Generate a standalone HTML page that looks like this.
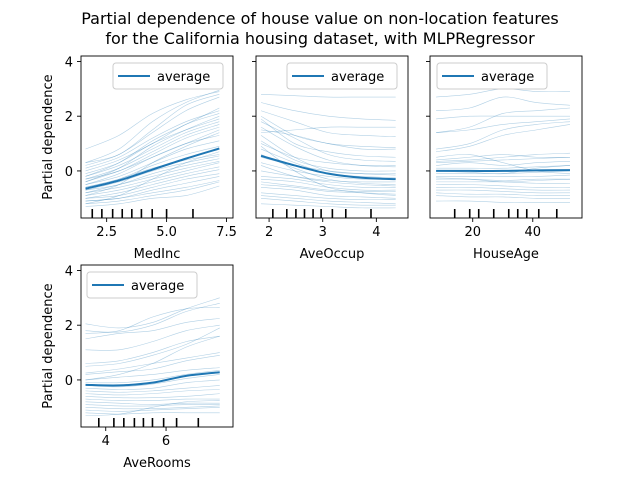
<!DOCTYPE html>
<html><head><meta charset="utf-8"><style>
body{margin:0;background:#fff}
svg{display:block;font-family:"DejaVu Sans","Liberation Sans",sans-serif}
</style></head><body>
<svg id="fig" width="640" height="480" viewBox="0 0 640 480">
<rect width="640" height="480" fill="#fff"/>
<text x="320" y="24" text-anchor="middle" font-size="16">Partial dependence of house value on non-location features</text>
<text x="320" y="44" text-anchor="middle" font-size="16">for the California housing dataset, with MLPRegressor</text>
</svg>
<script>
// ---- data ----
const featureNames = ["MedInc","AveOccup","HouseAge","AveRooms"];
const xRanges = [[1.62,7.2],[1.85,4.36],[7.8,52.4],[3.33,7.78]];
const xTickLabels = [[2.5,5.0,7.5],[2,3,4],[20,40],[4,6]];
const yTickLabels = [0,2,4];
const decilesMedInc = [1.9,2.3,2.75,3.15,3.55,3.95,4.4,5.0,6.1];
const decilesAveOccup = [2.07,2.33,2.5,2.66,2.82,2.97,3.18,3.43,3.9];
const decilesHouseAge = [14,19,22,27,32,35,38,42,48];
const decilesAveRooms = [3.77,4.27,4.6,4.95,5.25,5.55,5.92,6.35,7.07];
const avgMedInc = [-0.65,-0.35,0.05,0.45,0.82];
const avgAveOccup = [0.55,0.2,-0.1,-0.25,-0.3];
const avgHouseAge = [0.0,0.0,0.0,0.02,0.03];
const avgAveRooms = [-0.18,-0.2,-0.1,0.15,0.28];
const iceMedInc = [
[0.8,1.3,2.1,2.6,2.9],[0.3,0.8,1.8,2.5,2.95],[0.2,0.6,1.4,2.2,2.7],[0.1,0.5,1.2,1.8,2.2],[0.0,0.4,1.0,1.7,2.1],
[-0.1,0.3,1.0,1.5,1.9],[-0.2,0.2,0.8,1.4,1.8],[-0.3,0.1,0.7,1.3,1.7],[-0.3,0.0,0.6,1.2,1.6],[-0.4,0.0,0.5,1.0,1.5],
[-0.5,-0.1,0.5,1.0,1.3],[-0.5,-0.2,0.3,0.8,1.1],[-0.6,-0.3,0.2,0.6,0.9],[-0.6,-0.3,0.1,0.4,0.6],[-0.7,-0.4,0.0,0.3,0.55],
[-0.7,-0.5,-0.1,0.2,0.45],[-0.8,-0.5,-0.2,0.1,0.35],[-0.8,-0.6,-0.3,0.0,0.3],[-0.9,-0.7,-0.4,-0.1,0.15],[-1.0,-0.8,-0.5,-0.2,0.05],
[-1.0,-0.9,-0.6,-0.3,-0.1],[-1.1,-1.0,-0.7,-0.45,-0.2],[-1.1,-1.0,-0.8,-0.6,-0.35],[-1.2,-1.1,-0.9,-0.7,-0.4],[-1.3,-1.2,-1.0,-0.9,-0.55],
[-0.2,0.3,1.1,1.7,2.3],[-0.4,0.1,0.9,1.5,2.0],[-0.9,-0.5,0.3,0.9,1.4],[-1.2,-0.9,-0.3,0.3,0.7],[0.3,0.6,1.5,2.4,2.8]];
const iceAveOccup = [
[2.8,2.75,2.7,2.7,2.7],[2.5,2.2,2.0,1.9,1.85],[2.2,1.8,1.4,1.3,1.25],[2.0,1.3,1.0,0.8,0.8],[1.8,1.2,0.6,0.4,0.35],
[1.6,0.9,0.4,0.2,0.15],[1.4,1.5,1.6,1.6,1.6],[1.3,0.5,0.0,-0.1,-0.15],[1.1,0.4,0.1,0.0,0.0],[1.0,0.5,0.3,0.2,0.2],
[0.8,0.3,-0.1,-0.2,-0.25],[0.6,0.1,-0.3,-0.45,-0.5],[0.5,0.2,0.0,-0.1,-0.1],[0.3,0.0,-0.2,-0.3,-0.3],[0.2,-0.2,-0.4,-0.5,-0.55],
[0.0,-0.2,-0.35,-0.4,-0.4],[-0.2,-0.3,-0.5,-0.6,-0.6],[-0.3,-0.4,-0.6,-0.7,-0.7],[-0.5,-0.6,-0.75,-0.8,-0.85],[-0.6,-0.7,-0.9,-0.95,-1.0],
[-0.8,-0.9,-1.0,-1.05,-1.05],[-0.9,-1.0,-1.1,-1.15,-1.2],[-1.0,-1.1,-1.2,-1.25,-1.25],[-1.2,-1.25,-1.3,-1.35,-1.35],[1.9,1.0,0.7,0.55,0.5],
[1.5,1.3,1.0,0.9,0.85],[-0.4,-0.55,-0.7,-0.75,-0.75],[0.9,0.0,-0.6,-0.8,-0.9]];
const iceHouseAge = [
[2.7,2.8,3.0,2.9,2.9],[2.2,2.3,2.7,2.5,2.4],[1.4,1.6,2.1,2.2,2.3],[1.4,1.5,1.7,1.8,1.9],[0.8,1.0,1.5,1.7,1.8],
[0.7,0.9,1.3,1.5,1.7],[0.4,0.5,0.6,0.5,0.5],[0.3,0.35,0.4,0.45,0.5],[0.2,0.3,0.2,0.3,0.35],[0.1,0.1,0.1,0.15,0.2],
[0.0,-0.05,-0.1,0.1,0.2],[-0.1,-0.1,-0.1,-0.05,0.0],[-0.2,-0.2,-0.2,-0.2,-0.15],[-0.3,-0.3,-0.35,-0.3,-0.3],[-0.4,-0.4,-0.4,-0.45,-0.45],
[-0.5,-0.5,-0.55,-0.6,-0.6],[-0.6,-0.6,-0.65,-0.7,-0.7],[-0.7,-0.7,-0.75,-0.8,-0.8],[-0.8,-0.85,-0.85,-0.9,-0.9],[-0.9,-0.95,-0.95,-1.0,-1.0],
[-1.1,-1.1,-1.15,-1.15,-1.15],[1.9,2.0,2.0,2.0,2.0],[0.5,0.6,0.3,0.0,-0.1],[-0.25,-0.3,-0.4,-0.35,-0.3],[0.35,0.4,0.5,0.6,0.65]];
const iceAveRooms = [
[2.05,1.9,2.1,2.6,3.0],[1.8,1.75,2.0,2.5,2.8],[1.7,1.8,2.3,2.6,2.65],[1.5,1.7,1.8,2.1,2.25],[1.1,1.1,1.4,1.8,2.0],
[0.6,0.7,1.0,1.4,1.6],[0.5,0.6,0.9,1.3,1.9],[0.25,0.4,0.6,0.8,1.0],[0.2,0.3,0.4,0.7,0.9],[0.0,0.1,0.2,0.35,0.45],
[-0.1,-0.1,0.0,0.2,0.35],[-0.2,-0.25,-0.15,0.05,0.2],[-0.3,-0.35,-0.3,-0.1,0.0],[-0.4,-0.45,-0.4,-0.3,-0.2],[-0.5,-0.55,-0.5,-0.4,-0.35],
[-0.6,-0.65,-0.65,-0.6,-0.5],[-0.7,-0.75,-0.75,-0.7,-0.7],[-0.8,-0.85,-0.9,-0.85,-0.85],[-0.9,-0.95,-0.95,-0.9,-0.9],[-1.0,-1.05,-1.05,-1.0,-0.95],
[-1.1,-1.15,-1.1,-1.05,-1.0],[-1.2,-1.25,-1.2,-1.2,-1.2],[-1.3,-1.25,-1.0,-0.8,-0.75],[0.0,0.2,0.6,1.2,1.6]];
// ---- drawing ----
const iceData=[iceMedInc,iceAveOccup,iceHouseAge,iceAveRooms];
const avgData=[avgMedInc,avgAveOccup,avgHouseAge,avgAveRooms];
const decData=[decilesMedInc,decilesAveOccup,decilesHouseAge,decilesAveRooms];
const xLims=[[1.43,7.77],[1.756,4.59],[5.77,56.4],[3.18,8.22]];
const yLim=[-1.72,4.2];
const panels=[{l:81,t:56},{l:256,t:56},{l:430,t:56},{l:81,t:265}];
const W=152,H=162;
const legendX=[113,287,437,87];
const NS="http://www.w3.org/2000/svg";
const svg=document.getElementById('fig');
function mk(tag,attrs,parent){const e=document.createElementNS(NS,tag);for(const k in attrs)e.setAttribute(k,attrs[k]);(parent||svg).appendChild(e);return e;}
function smoothPath(pts){let d="M"+pts[0][0]+","+pts[0][1];for(let i=0;i<pts.length-1;i++){const p0=pts[Math.max(0,i-1)],p1=pts[i],p2=pts[i+1],p3=pts[Math.min(pts.length-1,i+2)];const c1=[p1[0]+(p2[0]-p0[0])/6,p1[1]+(p2[1]-p0[1])/6],c2=[p2[0]-(p3[0]-p1[0])/6,p2[1]-(p3[1]-p1[1])/6];d+=" C"+c1+" "+c2+" "+p2;}return d;}
panels.forEach((p,i)=>{
  const xs=v=>p.l+(v-xLims[i][0])/(xLims[i][1]-xLims[i][0])*W;
  const ys=v=>p.t+H-(v-yLim[0])/(yLim[1]-yLim[0])*H;
  const g=mk('g',{});
  
  
  const [x0,x1]=xRanges[i];
  const xAt=(k,n)=>x0+(x1-x0)*k/(n-1);
  iceData[i].forEach((line,j)=>{
    const path=mk('path',{d:smoothPath(line.map((v,k)=>[xs(xAt(k,line.length)),ys(v)])),fill:'none',stroke:'#1f77b4','stroke-width':0.6,'stroke-opacity':0.35},g);
    
    
  });
  const a=avgData[i];
  const ap=mk('path',{d:smoothPath(a.map((v,k)=>[xs(xAt(k,a.length)),ys(v)])),fill:'none',stroke:'#1f77b4','stroke-width':2},g);
  
  
  decData[i].forEach(d=>{
    const t=mk('line',{x1:xs(d),x2:xs(d),y1:p.t+H,y2:p.t+H-9,stroke:'#000','stroke-width':1.6},g);
    
    
  });
  const fr=mk('rect',{x:p.l,y:p.t,width:W,height:H,fill:'none',stroke:'#000','stroke-width':0.9},g);
  
  
  xTickLabels[i].forEach(v=>{
    const X=xs(v);
    mk('line',{x1:X,x2:X,y1:p.t+H,y2:p.t+H+4,stroke:'#000','stroke-width':0.9},g);
    const t=mk('text',{x:X,y:p.t+H+18,'text-anchor':'middle','font-size':13},g);
    t.textContent=(i===0)?v.toFixed(1):String(v);
    
    
  });
  yTickLabels.forEach(v=>{
    const Y=ys(v);
    mk('line',{x1:p.l-4,x2:p.l,y1:Y,y2:Y,stroke:'#000','stroke-width':0.9},g);
    if(i===0||i===3){
      const t=mk('text',{x:p.l-8,y:Y+5,'text-anchor':'end','font-size':13},g);
      t.textContent=String(v);
      
      
    }
  });
  const xl=mk('text',{x:p.l+W/2,y:p.t+H+40,'text-anchor':'middle','font-size':13},g);
  xl.textContent=featureNames[i];
  
  
  if(i===0||i===3){
    const yl=mk('text',{x:0,y:0,'text-anchor':'middle','font-size':13,transform:`translate(52,${p.t+H/2}) rotate(-90)`},g);
    yl.textContent='Partial dependence';
    
    
  }
  const lg=mk('g',{},g);
  
  
  const lx=legendX[i],ly=p.t+7;
  mk('rect',{x:lx,y:ly,width:110,height:26,rx:3,fill:'#fff','fill-opacity':0.8,stroke:'#ccc','stroke-width':1},lg);
  mk('line',{x1:lx+5,x2:lx+37,y1:ly+13,y2:ly+13,stroke:'#1f77b4','stroke-width':2},lg);
  const lt=mk('text',{x:lx+44,y:ly+18,'font-size':13},lg);
  lt.textContent='average';
  
  
});
</script>
</body></html>
